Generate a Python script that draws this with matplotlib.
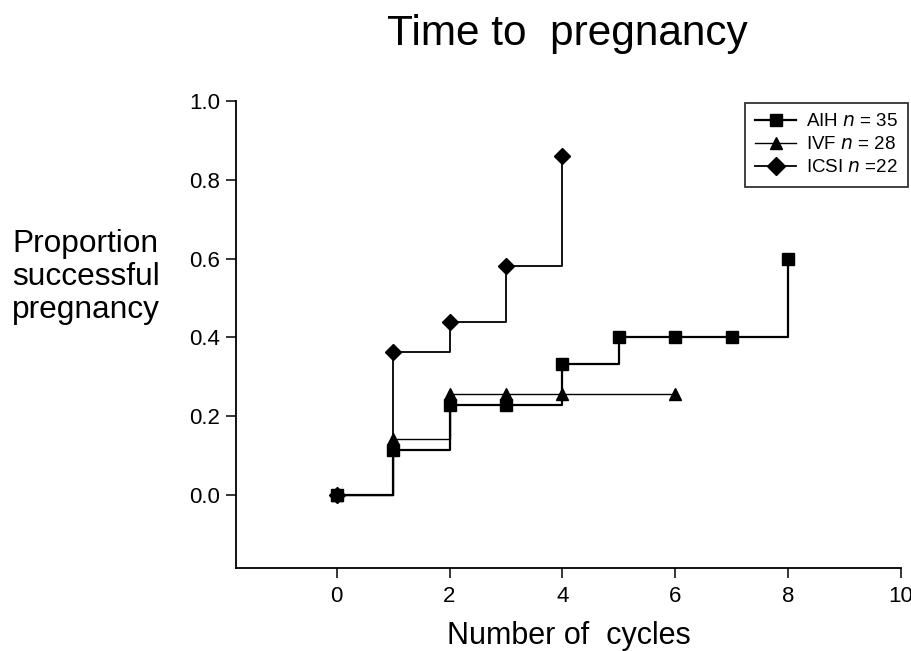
import numpy as np
import matplotlib
matplotlib.use("Agg")
import matplotlib.pyplot as plt

plt.rcParams['font.family'] = ['Liberation Sans', 'DejaVu Sans']

# Datos (proporcion acumulada de embarazo por ciclo)
aih_ciclos = [0, 1, 2, 3, 4, 5, 6, 7, 8]
aih_prop = [0.0, 0.114, 0.229, 0.229, 0.333, 0.40, 0.40, 0.40, 0.60]

ivf_ciclos = [0, 1, 2, 3, 4, 6]
ivf_prop = [0.0, 0.143, 0.257, 0.257, 0.257, 0.257]

icsi_ciclos = [0, 1, 2, 3, 4]
icsi_prop = [0.0, 0.364, 0.44, 0.58, 0.86]

etiquetas = ['AIH $n$ = 35', 'IVF $n$ = 28', 'ICSI $n$ =22']
xticks = [0, 2, 4, 6, 8, 10]
yticks = [0.0, 0.2, 0.4, 0.6, 0.8, 1.0]

fig = plt.figure(figsize=(9.12, 6.51), dpi=100)
ax = fig.add_axes([0.259, 0.1275, 0.729, 0.7175])

ax.plot(aih_ciclos, aih_prop, drawstyle='steps-post', color='black', lw=1.6,
        marker='s', ms=8, label=etiquetas[0])
ax.plot(ivf_ciclos, ivf_prop, drawstyle='steps-post', color='black', lw=1.0,
        marker='^', ms=8.5, label=etiquetas[1])
ax.plot(icsi_ciclos, icsi_prop, drawstyle='steps-post', color='black', lw=1.3,
        marker='D', ms=8, label=etiquetas[2])

ax.set_xlim(-1.78, 10)
ax.set_ylim(-0.185, 1.0)
ax.set_xticks(xticks)
ax.set_yticks(yticks)
ax.set_yticklabels([f'{v:.1f}' for v in yticks])
ax.tick_params(axis='both', direction='out', length=7, width=1.1, labelsize=16, pad=4.5)
ax.tick_params(axis='x', pad=6)

for lado in ['top', 'right']:
    ax.spines[lado].set_visible(False)
for lado in ['left', 'bottom']:
    ax.spines[lado].set_linewidth(1.3)

ax.set_xlabel('Number of  cycles', fontsize=22, labelpad=10)
fig.text(12 / 912, 1 - 277 / 651, 'Proportion\nsuccessful\npregnancy', fontsize=22.8,
         ha='left', va='center', multialignment='left', linespacing=1.12)
fig.text(0.622, 1 - 34 / 651, 'Time to  pregnancy', fontsize=30.5, ha='center', va='center')

leg = ax.legend(loc='upper right', bbox_to_anchor=(1.0105, 0.996), borderaxespad=0,
                fontsize=13.5, frameon=True, fancybox=False, edgecolor='black',
                handlelength=2.2, borderpad=0.55, labelspacing=0.32, handletextpad=0.5,
                markerscale=1.1)
leg.get_frame().set_linewidth(1.3)

plt.savefig('out.png', dpi=100)
